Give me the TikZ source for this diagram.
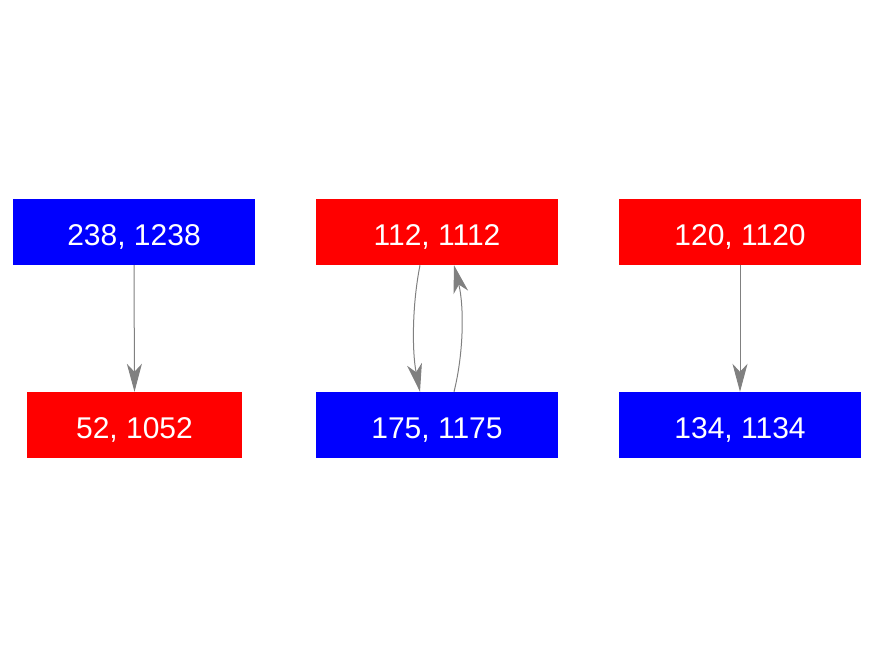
\documentclass[tikz,border=0pt]{standalone}
\usepackage{fontspec}
\setmainfont{Liberation Sans}
\usetikzlibrary{arrows.meta}
\begin{document}
\begin{tikzpicture}[x=1pt,y=-1pt,
  boxnode/.style={minimum height=66pt, inner sep=0pt, text=white, text height=21.5pt, text depth=0pt, font=\fontsize{30}{33}\selectfont},
  bluebox/.style={boxnode, fill={rgb,255:red,0;green,0;blue,255}},
  redbox/.style={boxnode, fill={rgb,255:red,255;green,0;blue,0}},
  conn/.style={draw={rgb,255:red,128;green,128;blue,128}, line width=1pt,
    -{Stealth[length=28pt,width=15pt,inset=8pt]}}]
\useasboundingbox (0,0) rectangle (875,656);
\node[bluebox, minimum width=242pt] (a) at (134,232) {\raisebox{-3pt}{238, 1238}};
\node[redbox, minimum width=215pt] (b) at (134.5,425) {\raisebox{-3pt}{52, 1052}};
\node[redbox, minimum width=242pt] (c) at (437,232) {\raisebox{-3pt}{112, 1112}};
\node[bluebox, minimum width=242pt] (d) at (437,425) {\raisebox{-3pt}{175, 1175}};
\node[redbox, minimum width=242pt] (e) at (740,232) {\raisebox{-3pt}{120, 1120}};
\node[bluebox, minimum width=242pt] (f) at (740,425) {\raisebox{-3pt}{134, 1134}};
\draw[conn] (a.south) -- (b.north);
\draw[conn] (e.south) -- (f.north);
\draw[conn] ([xshift=-17pt]c.south) .. controls ([xshift=-25pt,yshift=-40pt]c.south) and ([xshift=-25pt,yshift=40pt]d.north) .. ([xshift=-17pt]d.north);
\draw[conn] ([xshift=17pt]d.north) .. controls ([xshift=27pt,yshift=40pt]d.north) and ([xshift=27pt,yshift=-40pt]c.south) .. ([xshift=17pt]c.south);
\end{tikzpicture}
\end{document}
